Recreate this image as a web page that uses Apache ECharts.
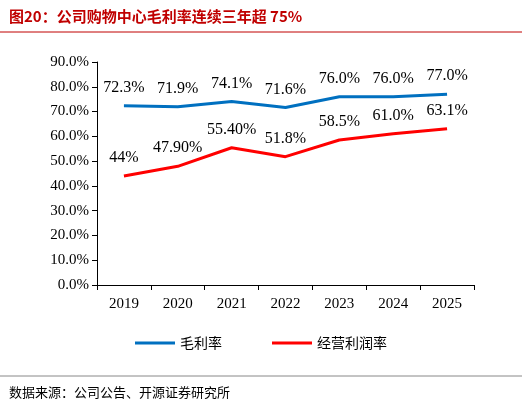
<!DOCTYPE html>
<html><head><meta charset="utf-8">
<script src="https://cdn.jsdelivr.net/npm/echarts@6/dist/echarts.min.js"></script>
<style>body{margin:0;background:#fff}#c{width:522px;height:407px}</style>
</head><body><div id="c"></div>
<script>
var categories=['2019','2020','2021','2022','2023','2024','2025'];
var grossMargin=[72.3,71.9,74.1,71.6,76.0,76.0,77.0];
var grossLabels=['72.3%','71.9%','74.1%','71.6%','76.0%','76.0%','77.0%'];
var opMargin=[44,47.9,55.4,51.8,58.5,61.0,63.1];
var opLabels=['44%','47.90%','55.40%','51.8%','58.5%','61.0%','63.1%'];
var serif='"Liberation Serif","Times New Roman",serif';
var chart=echarts.init(document.getElementById('c'));
chart.setOption({
 animation:false,
 title:[{text:'图20：公司购物中心毛利率连续三年超 75%',left:4,top:4,textStyle:{color:'#c00000',fontSize:15,fontWeight:'bold',fontFamily:'"Noto Sans CJK SC"'}},
  {text:'数据来源：公司公告、开源证券研究所',left:4,top:381,textStyle:{color:'#000',fontSize:13,fontWeight:'normal',fontFamily:'"Noto Sans CJK SC"'}}],
 graphic:[{type:'line',shape:{x1:0,y1:32,x2:522,y2:32},style:{stroke:'#c00000',lineWidth:1}},
  {type:'line',shape:{x1:0,y1:376,x2:522,y2:376},style:{stroke:'#888',lineWidth:1}}],
 legend:{bottom:52,itemWidth:40,itemGap:50,icon:'rect',itemHeight:3,textStyle:{fontSize:14,fontFamily:'"Noto Sans CJK SC"',color:'#000'},
  data:['毛利率','经营利润率']},
 grid:{left:97,right:48,top:62,bottom:122},
 xAxis:{type:'category',data:categories,axisLine:{lineStyle:{color:'#000'}},axisTick:{show:true,lineStyle:{color:'#000'}},
  axisLabel:{color:'#000',fontSize:15,fontFamily:serif,margin:12}},
 yAxis:{type:'value',min:0,max:90,interval:10,splitLine:{show:false},axisLine:{show:true,lineStyle:{color:'#000'}},axisTick:{show:true,lineStyle:{color:'#000'}},
  axisLabel:{color:'#000',fontSize:15,fontFamily:serif,formatter:function(v){return v.toFixed(1)+'%';}}},
 series:[
  {name:'毛利率',type:'line',data:grossMargin,symbol:'circle',symbolSize:0.1,showSymbol:true,lineStyle:{color:'#0070c0',width:3},itemStyle:{color:'#0070c0'},
   label:{show:true,position:'top',distance:10,fontSize:16,fontFamily:serif,color:'#000',formatter:function(p){return grossLabels[p.dataIndex];}}},
  {name:'经营利润率',type:'line',data:opMargin,symbol:'circle',symbolSize:0.1,showSymbol:true,lineStyle:{color:'#ff0000',width:3},itemStyle:{color:'#ff0000'},
   label:{show:true,position:'top',distance:10,fontSize:16,fontFamily:serif,color:'#000',formatter:function(p){return opLabels[p.dataIndex];}}}
 ]
});
</script></body></html>
